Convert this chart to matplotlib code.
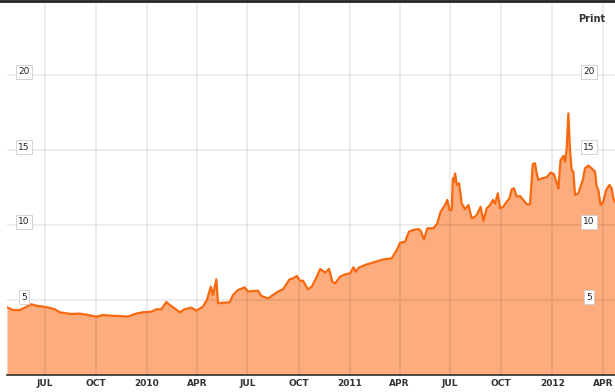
import pandas as pd
import matplotlib
matplotlib.use("Agg")
import matplotlib.pyplot as plt
from matplotlib.lines import Line2D

# price series
dates = [
    "2009-04-24", "2009-05-05", "2009-05-17", "2009-05-26", "2009-06-07", "2009-06-16",
    "2009-06-28", "2009-07-10", "2009-07-19", "2009-07-28", "2009-08-09", "2009-08-18",
    "2009-09-02", "2009-09-14", "2009-10-02", "2009-10-14", "2009-10-26", "2009-11-13",
    "2009-11-28", "2009-12-10", "2009-12-24", "2010-01-09", "2010-01-18", "2010-01-27",
    "2010-02-05", "2010-02-11", "2010-02-20", "2010-03-01", "2010-03-10", "2010-03-22",
    "2010-03-31", "2010-04-12", "2010-04-19", "2010-04-26", "2010-04-30", "2010-05-06",
    "2010-05-09", "2010-05-18", "2010-05-30", "2010-06-05", "2010-06-14", "2010-06-17",
    "2010-06-26", "2010-07-02", "2010-07-11", "2010-07-20", "2010-07-26", "2010-08-07",
    "2010-08-16", "2010-08-25", "2010-09-03", "2010-09-15", "2010-09-21", "2010-09-28",
    "2010-10-04", "2010-10-09", "2010-10-18", "2010-10-25", "2010-11-03", "2010-11-09",
    "2010-11-18", "2010-11-25", "2010-12-01", "2010-12-06", "2010-12-15", "2010-12-24",
    "2011-01-02", "2011-01-08", "2011-01-12", "2011-01-18", "2011-01-30", "2011-02-12",
    "2011-03-02", "2011-03-18", "2011-03-27", "2011-04-02", "2011-04-11", "2011-04-18",
    "2011-04-26", "2011-05-05", "2011-05-09", "2011-05-15", "2011-05-21", "2011-06-01",
    "2011-06-08", "2011-06-14", "2011-06-22", "2011-06-26", "2011-06-30", "2011-07-04",
    "2011-07-06", "2011-07-08", "2011-07-10", "2011-07-13", "2011-07-17", "2011-07-22",
    "2011-07-28", "2011-08-03", "2011-08-09", "2011-08-15", "2011-08-18", "2011-08-25",
    "2011-08-30", "2011-09-05", "2011-09-11", "2011-09-16", "2011-09-20", "2011-09-25",
    "2011-09-29", "2011-10-05", "2011-10-11", "2011-10-16", "2011-10-20", "2011-10-24",
    "2011-10-29", "2011-11-04", "2011-11-10", "2011-11-16", "2011-11-22", "2011-11-27",
    "2011-12-01", "2011-12-04", "2011-12-07", "2011-12-13", "2011-12-22", "2011-12-29",
    "2012-01-04", "2012-01-09", "2012-01-12", "2012-01-16", "2012-01-21", "2012-01-24",
    "2012-01-27", "2012-01-30", "2012-02-02", "2012-02-05", "2012-02-08", "2012-02-11",
    "2012-02-17", "2012-02-20", "2012-02-25", "2012-02-29", "2012-03-06", "2012-03-12",
    "2012-03-18", "2012-03-21", "2012-03-24", "2012-03-28", "2012-04-02", "2012-04-07",
    "2012-04-13", "2012-04-17", "2012-04-20", "2012-04-23",
]
prices = [
    4.51, 4.33, 4.33, 4.49, 4.71, 4.62,
    4.56, 4.47, 4.38, 4.18, 4.11, 4.07,
    4.09, 4.02, 3.89, 4.00, 3.96, 3.93,
    3.89, 4.07, 4.18, 4.22, 4.38, 4.38,
    4.87, 4.67, 4.44, 4.18, 4.38, 4.49,
    4.29, 4.56, 5.00, 5.89, 5.33, 6.38,
    4.78, 4.82, 4.84, 5.33, 5.67, 5.71,
    5.84, 5.56, 5.60, 5.62, 5.27, 5.11,
    5.33, 5.56, 5.71, 6.38, 6.44, 6.60,
    6.27, 6.29, 5.71, 5.89, 6.56, 7.07,
    6.82, 7.07, 6.22, 6.11, 6.56, 6.71,
    6.78, 7.18, 6.89, 7.16, 7.35, 7.50,
    7.70, 7.78, 8.33, 8.82, 8.89, 9.56,
    9.67, 9.73, 9.62, 9.04, 9.78, 9.78,
    10.11, 10.89, 11.33, 11.67, 11.00, 11.00,
    13.11, 12.89, 13.44, 12.67, 12.78, 11.44,
    11.04, 11.33, 10.44, 10.56, 10.67, 11.22,
    10.27, 11.11, 11.33, 11.67, 11.44, 12.11,
    11.11, 11.22, 11.56, 11.78, 12.38, 12.44,
    11.89, 11.93, 11.67, 11.38, 11.38, 14.07,
    14.11, 13.44, 13.00, 13.11, 13.18, 13.49,
    13.40, 12.82, 12.44, 14.33, 14.60, 14.22,
    15.11, 17.44, 15.00, 13.67, 13.56, 12.00,
    12.11, 12.44, 13.00, 13.78, 13.96, 13.78,
    13.56, 12.56, 12.33, 11.33, 11.56, 12.33,
    12.67, 12.44, 11.78, 11.56,
]
x_ticks = ["2009-07-01", "2009-10-01", "2010-01-01", "2010-04-01", "2010-07-01",
           "2010-10-01", "2011-01-01", "2011-04-01", "2011-07-01", "2011-10-01",
           "2012-01-01", "2012-04-01"]
x_labels = ["JUL", "OCT", "2010", "APR", "JUL", "OCT", "2011", "APR", "JUL", "OCT",
            "2012", "APR"]
y_ticks = [5, 10, 15, 20]

dt = pd.to_datetime(dates)
tick_dt = pd.to_datetime(x_ticks)

fig = plt.figure(figsize=(6.15, 3.92), dpi=100)
ax = fig.add_axes([7 / 615, 17 / 392, 608 / 615, 375 / 392])

ax.fill_between(dt, prices, 0, color="#fdad7d", lw=0, zorder=1)
ax.plot(dt, prices, color="#f7680f", lw=1.6, zorder=3, solid_joinstyle="round")

ax.set_xlim(pd.Timestamp("2009-04-24"), pd.Timestamp("2012-04-23"))
ax.set_ylim(0, 25)

# grid above the fill
for t in tick_dt:
    ax.axvline(t, color="black", alpha=0.08, lw=1.3, zorder=2)
for v in y_ticks:
    ax.axhline(v, color="black", alpha=0.08, lw=1.3, zorder=2)

ax.set_xticks(tick_dt)
ax.set_xticklabels(x_labels, fontsize=6.5, fontweight="bold", color="#333333")
ax.tick_params(axis="x", length=0, pad=3)
ax.set_yticks([])

for s in ["left", "right", "top"]:
    ax.spines[s].set_visible(False)
ax.spines["bottom"].set_color("#333333")
ax.spines["bottom"].set_linewidth(1.2)

# boxed y labels inside the plot, both sides
box = dict(boxstyle="square,pad=0.25", fc="white", ec="#cccccc", lw=0.6)
for v in y_ticks:
    ax.text(17 / 608, v + 0.2, str(v), transform=ax.get_yaxis_transform(),
            ha="center", va="center", fontsize=6.5, color="#222222", bbox=box, zorder=5)
    ax.text(582 / 608, v + 0.2, str(v), transform=ax.get_yaxis_transform(),
            ha="center", va="center", fontsize=6.5, color="#222222", bbox=box, zorder=5)

fig.text(592 / 615, 1 - 19 / 392, "Print", ha="center", va="center",
         fontsize=7, fontweight="bold", color="#333333")
fig.add_artist(Line2D([0, 1], [1 - 1 / 392, 1 - 1 / 392], transform=fig.transFigure,
                      color="#222222", lw=2))

fig.savefig("out.png", dpi=100)
